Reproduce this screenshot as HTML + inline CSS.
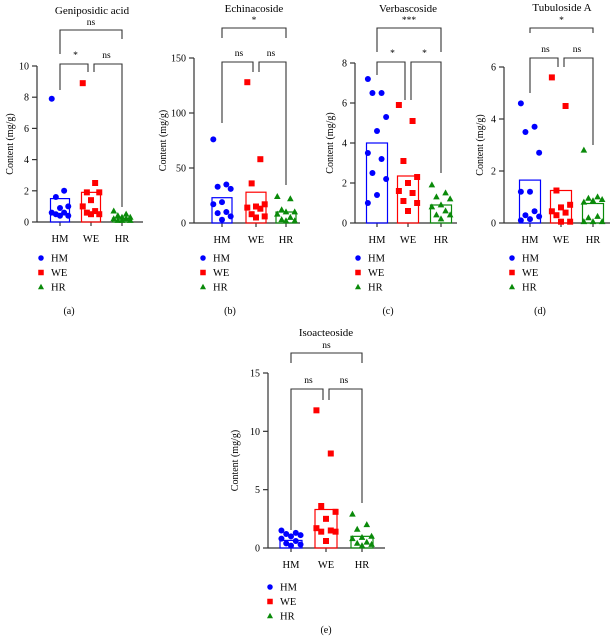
<!DOCTYPE html>
<html><head><meta charset="utf-8">
<style>
body{margin:0;background:#fff;}
svg{display:block;font-family:"Liberation Serif",serif;}
</style></head>
<body>
<svg id="fig" width="615" height="643" viewBox="0 0 615 643"></svg>
<script>
const groups = ["HM","WE","HR"];
// Panel data
const titles = ["Geniposidic acid","Echinacoside","Verbascoside","Tubuloside A","Isoacteoside"];
const panelLetters = ["(a)","(b)","(c)","(d)","(e)"];
const yMaxes = [10,150,8,6,15];
const yTickLists = [[0,2,4,6,8,10],[0,50,100,150],[0,2,4,6,8],[0,2,4,6],[0,5,10,15]];
const barMeans = [[1.5,1.9,0.25],[23,28,10],[4.0,2.35,0.9],[1.65,1.25,0.75],[0.65,3.3,1.0]];
const sigLabels = [["ns","*","ns"],["*","ns","ns"],["***","*","*"],["*","ns","ns"],["ns","ns","ns"]];
const hmValues = [
 [7.9,2.0,1.6,1.0,0.9,0.6,0.6,0.5,0.4,0.4],
 [76,35,33,31,19,17,10,9,6,3],
 [7.2,6.5,6.5,5.3,4.6,3.5,3.2,2.5,2.2,1.4,1.0],
 [4.6,3.7,3.5,2.7,1.2,1.2,0.45,0.3,0.25,0.15,0.1],
 [1.5,1.3,1.2,1.1,1.0,0.8,0.6,0.4,0.3,0.2]];
const weValues = [
 [8.9,2.5,1.9,1.9,1.4,1.0,0.7,0.6,0.5,0.5],
 [128,58,36,17,15,14,13,8,6,5],
 [5.9,5.1,3.1,2.3,2.0,1.6,1.5,1.1,1.0,0.6],
 [5.6,4.5,1.25,0.7,0.6,0.45,0.4,0.3,0.05,0.05],
 [11.8,8.1,3.6,3.1,2.5,1.7,1.5,1.4,1.4,0.6]];
const hrValues = [
 [0.7,0.5,0.4,0.3,0.3,0.2,0.2,0.1,0.1,0.1],
 [24,22,12,10,10,8,5,3,2,2],
 [1.9,1.5,1.3,1.2,0.9,0.8,0.6,0.4,0.4,0.2],
 [2.8,1.0,0.95,0.9,0.85,0.8,0.25,0.2,0.05,0.05,0.05],
 [2.9,2.0,1.6,1.0,0.9,0.8,0.5,0.4,0.3,0.2]];

// layout (pixels)
const layouts = [
 {ax:37,y0:222,yTop:66,xEnd:143,cx:[60,91,122],bw:19,title:[92,10],ylab:10,leg:[41,258],letter:[69,311],
  top:[30,54,39],low:[64,90,72,72,207]},
 {ax:194,y0:223,yTop:58,xEnd:300,cx:[222,256,286],bw:20,title:[254,8],ylab:163,leg:[203,258],letter:[230,311],
  top:[28,38,38],low:[62,123,72,72,185]},
 {ax:355,y0:223,yTop:63,xEnd:457,cx:[377,408,441],bw:21,title:[408,8],ylab:330,leg:[358,258],letter:[388,311],
  top:[28,52,52],low:[62,75,100,100,173]},
 {ax:504,y0:223,yTop:67,xEnd:610,cx:[530,561,593],bw:21,title:[562,7],ylab:480,leg:[512,258],letter:[540,311],
  top:[28,33,33],low:[58,93,67,67,145]},
 {ax:268,y0:548,yTop:373,xEnd:385,cx:[291,326,362],bw:22,title:[326,332],ylab:235,leg:[270,587],letter:[326,630],
  top:[353,363,363],low:[389,530,400,400,503]}
];
const colors = ["#0000ff","#ff0000","#0a8a0a"];
const NS = "http://www.w3.org/2000/svg";
const fig = document.getElementById("fig");
function mk(tag, attrs, parent, text){
  const e = document.createElementNS(NS, tag);
  for (const k in attrs) e.setAttribute(k, attrs[k]);
  if (text !== undefined) e.textContent = text;
  (parent||fig).appendChild(e);
  return e;
}
function marker(g, type, x, y, s, color){
  if (type===0) return mk("circle",{cx:x,cy:y,r:s/2,fill:color},g);
  if (type===1) return mk("rect",{x:x-s/2,y:y-s/2,width:s,height:s,fill:color},g);
  return mk("polygon",{points:`${x},${y-s*0.6} ${x+s*0.55},${y+s*0.4} ${x-s*0.55},${y+s*0.4}`,fill:color},g);
}
for (let p=0;p<5;p++){
  const L = layouts[p];
  const yScale = v => L.y0 - v/yMaxes[p]*(L.y0-L.yTop);
  const g = mk("g",{});
  
  
  const t = mk("text",{x:L.title[0],y:L.title[1]+4,"text-anchor":"middle","font-size":"11"},g,titles[p]);
  
  
  const ya = mk("line",{x1:L.ax,y1:L.yTop,x2:L.ax,y2:L.y0,stroke:"#333","stroke-width":1.2},g);
  
  
  const xa = mk("line",{x1:L.ax,y1:L.y0,x2:L.xEnd,y2:L.y0,stroke:"#333","stroke-width":1.2},g);
  
  
  yTickLists[p].forEach(v=>{
    const y = yScale(v);
    mk("line",{x1:L.ax-5,y1:y,x2:L.ax,y2:y,stroke:"#333","stroke-width":1.2},g);
    const tl = mk("text",{x:L.ax-8,y:y+3.5,"text-anchor":"end","font-size":"10"},g,String(v));
    
    
  });
  const yl = mk("text",{x:L.ylab,y:(L.y0+L.yTop)/2,"text-anchor":"middle","font-size":"10",
     transform:`rotate(-90 ${L.ylab} ${(L.y0+L.yTop)/2})`,dy:"3"},g,"Content (mg/g)");
  
  
  const series = [hmValues[p],weValues[p],hrValues[p]];
  for (let k=0;k<3;k++){
    const cx = L.cx[k];
    mk("line",{x1:cx,y1:L.y0,x2:cx,y2:L.y0+4,stroke:"#333","stroke-width":1.2},g);
    const xl = mk("text",{x:cx,y:L.y0+20,"text-anchor":"middle","font-size":"10.5"},g,groups[k]);
    
    
    const by = yScale(barMeans[p][k]);
    const bar = mk("rect",{x:cx-L.bw/2,y:by,width:L.bw,height:L.y0-by,fill:"none",stroke:colors[k],"stroke-width":1.2},g);
    
    
    series[k].forEach((v,i)=>{
      const off = (((i*3)%5)-2)*(L.bw/4.6);
      const m = marker(g,k,cx+off,yScale(v),6,colors[k]);
      
      
    });
  }
  const [x1,x2,x3] = L.cx;
  const tb = L.top;
  mk("path",{d:`M${x1},${tb[1]} V${tb[0]} H${x3} V${tb[2]}`,fill:"none",stroke:"#333","stroke-width":1.1},g);
  const s0 = mk("text",{x:(x1+x3)/2,y:tb[0]-5,"text-anchor":"middle","font-size":"9.5"},g,sigLabels[p][0]);
  
  
  const lb = L.low;
  mk("path",{d:`M${x1},${lb[1]} V${lb[0]} H${x2-3} V${lb[2]}`,fill:"none",stroke:"#333","stroke-width":1.1},g);
  mk("path",{d:`M${x2+3},${lb[3]} V${lb[0]} H${x3} V${lb[4]}`,fill:"none",stroke:"#333","stroke-width":1.1},g);
  const s1 = mk("text",{x:(x1+x2)/2,y:lb[0]-6,"text-anchor":"middle","font-size":"9.5"},g,sigLabels[p][1]);
  
  
  const s2 = mk("text",{x:(x2+x3)/2,y:lb[0]-6,"text-anchor":"middle","font-size":"9.5"},g,sigLabels[p][2]);
  
  
  for (let k=0;k<3;k++){
    const ly = L.leg[1]+k*14.5;
    const lg = mk("g",{},g);
    
    
    marker(lg,k,L.leg[0],ly,5.5,colors[k]);
    mk("text",{x:L.leg[0]+10,y:ly+3.5,"font-size":"10.5"},lg,groups[k]);
  }
  const pl = mk("text",{x:L.letter[0],y:L.letter[1]+3,"text-anchor":"middle","font-size":"10"},g,panelLetters[p]);
  
  
}
</script>
</body></html>
